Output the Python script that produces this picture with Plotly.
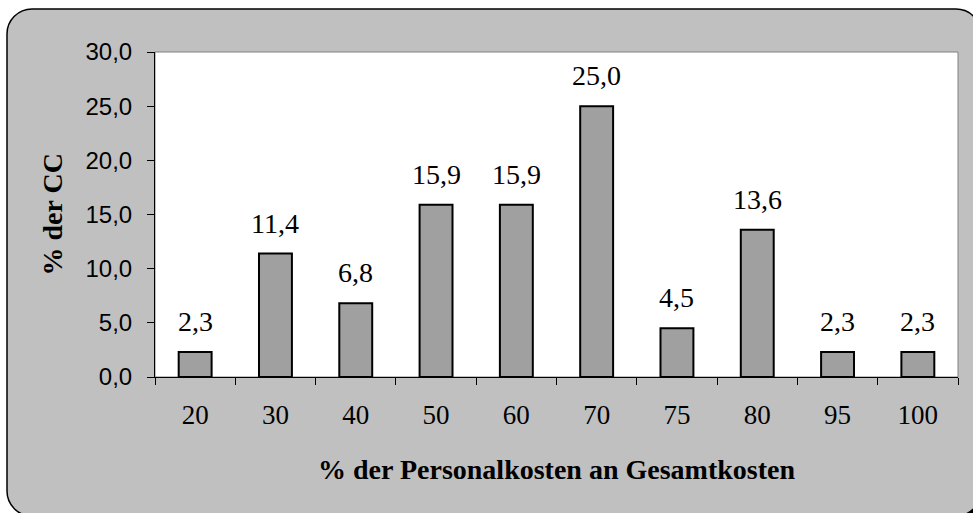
import plotly.graph_objects as go

categories = ["20", "30", "40", "50", "60", "70", "75", "80", "95", "100"]
values = [2.3, 11.4, 6.8, 15.9, 15.9, 25.0, 4.5, 13.6, 2.3, 2.3]
value_labels = ["2,3", "11,4", "6,8", "15,9", "15,9", "25,0", "4,5", "13,6", "2,3", "2,3"]
y_ticks = [0, 5, 10, 15, 20, 25, 30]

W, H = 973, 513
L, R, T, B = 155, 15, 52, 136
PW, PH = W - L - R, H - T - B

def px(x):
    return (x - L) / PW

def py(y):
    return (H - B - y) / PH

def rounded_path(x0, y0, x1, y1, r):
    k = 0.5523 * r
    pts = [
        f"M{px(x0 + r)},{py(y0)}",
        f"L{px(x1 - r)},{py(y0)}",
        f"C{px(x1 - r + k)},{py(y0)} {px(x1)},{py(y0 + r - k)} {px(x1)},{py(y0 + r)}",
        f"L{px(x1)},{py(y1 - r)}",
        f"C{px(x1)},{py(y1 - r + k)} {px(x1 - r + k)},{py(y1)} {px(x1 - r)},{py(y1)}",
        f"L{px(x0 + r)},{py(y1)}",
        f"C{px(x0 + r - k)},{py(y1)} {px(x0)},{py(y1 - r + k)} {px(x0)},{py(y1 - r)}",
        f"L{px(x0)},{py(y0 + r)}",
        f"C{px(x0)},{py(y0 + r - k)} {px(x0 + r - k)},{py(y0)} {px(x0 + r)},{py(y0)}",
        "Z",
    ]
    return " ".join(pts)

serif = "Liberation Serif, Times New Roman, serif"
sans = "Liberation Sans, Arial, sans-serif"

fig = go.Figure()
fig.add_trace(go.Bar(
    x=categories, y=values,
    marker=dict(color="#A0A0A0", line=dict(color="black", width=2)),
    width=0.41, hoverinfo="skip",
))

shapes = [
    dict(type="path", xref="paper", yref="paper", layer="below",
         path=rounded_path(10, 12, 984, 519, 25), fillcolor="black", line=dict(width=0)),
    dict(type="path", xref="paper", yref="paper", layer="below",
         path=rounded_path(7, 9, 981, 516, 25), fillcolor="#C0C0C0",
         line=dict(color="black", width=1.5)),
    dict(type="rect", xref="paper", yref="paper", layer="below",
         x0=0, x1=1, y0=0, y1=1, fillcolor="white",
         line=dict(color="#808080", width=1)),
]

annotations = []
for i, (v, t) in enumerate(zip(values, value_labels)):
    annotations.append(dict(x=i, y=v, xref="x", yref="y", text=t, showarrow=False,
                            yanchor="bottom", yshift=13,
                            font=dict(family=serif, size=28, color="black")))
annotations.append(dict(x=0.5, y=py(469), xref="paper", yref="paper",
                        text="<b>% der Personalkosten an Gesamtkosten</b>", showarrow=False,
                        xanchor="center", yanchor="middle",
                        font=dict(family=serif, size=28, color="black")))
annotations.append(dict(x=px(52), y=0.5, xref="paper", yref="paper",
                        text="<b>% der CC</b>", showarrow=False, textangle=-90,
                        xanchor="center", yanchor="middle",
                        font=dict(family=serif, size=28, color="black")))

fig.update_layout(
    width=W, height=H,
    margin=dict(l=L, r=R, t=T, b=B, pad=0, autoexpand=False),
    paper_bgcolor="white", plot_bgcolor="rgba(0,0,0,0)",
    separators=",.",
    showlegend=False,
    shapes=shapes, annotations=annotations,
    bargap=0.59,
)
fig.update_xaxes(
    type="category", range=[-0.5, len(categories) - 0.5], autorange=False,
    tickson="boundaries", ticks="outside", ticklen=7, tickangle=0,
    tickcolor="black", tickwidth=1, showline=True, linecolor="black", linewidth=1,
    showgrid=False, ticklabelstandoff=14, automargin=False,
    tickfont=dict(family=serif, size=27, color="black"),
)
fig.update_yaxes(
    range=[0, 30], autorange=False, tickvals=y_ticks, tickformat=".1f", ticks="outside", ticklen=7,
    tickcolor="black", tickwidth=1, showline=True, linecolor="black", linewidth=1,
    showgrid=False, zeroline=False, ticklabelstandoff=10, automargin=False,
    tickfont=dict(family=sans, size=24, color="black"),
)

fig.write_html(
    "out.html",
    config={"displayModeBar": False},
    post_script="document.body.style.margin='0';document.body.style.overflow='hidden';",
)
